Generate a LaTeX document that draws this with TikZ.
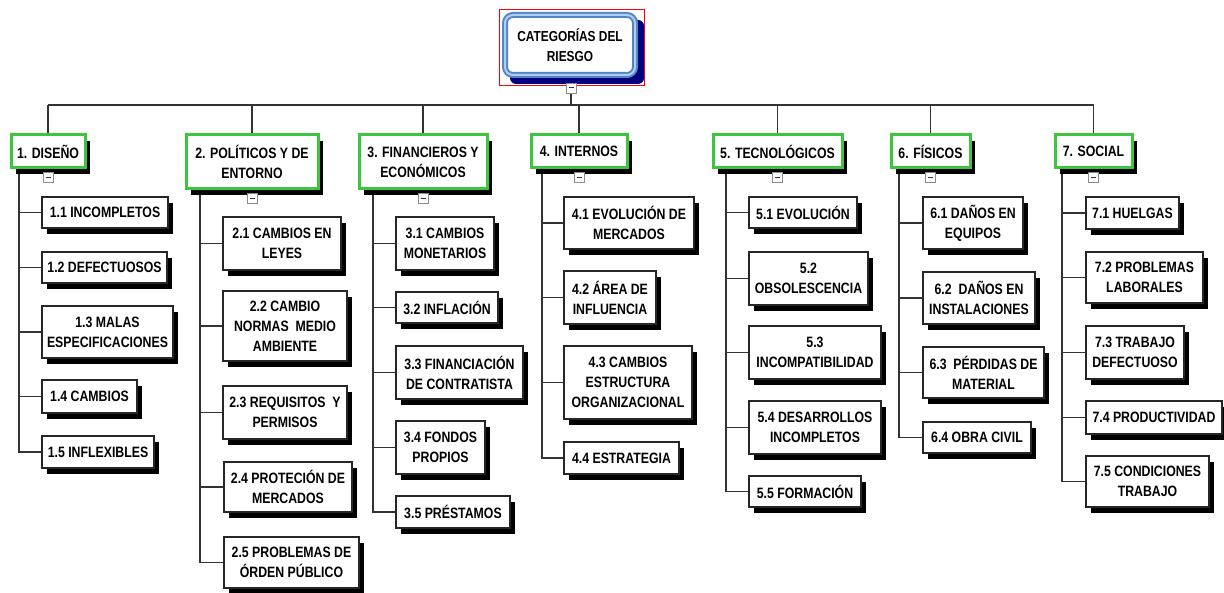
\documentclass[tikz,border=0pt]{standalone}
\usepackage{fontspec}
\newfontfamily\riskfont{Liberation Sans}[FakeStretch=0.82]
\usetikzlibrary{positioning,shadows,backgrounds}
\definecolor{catgreen}{RGB}{62,196,62}
\definecolor{rootblue}{RGB}{84,134,196}
\definecolor{rootlight}{RGB}{178,204,236}
\definecolor{rootnavy}{RGB}{0,0,128}
\tikzset{
  box font/.style={font=\riskfont\bfseries\fontsize{15}{20}\selectfont,text=black},
  cat box/.style={
    box font,draw=catgreen,line width=3pt,fill=white,align=center,inner sep=0pt,
    drop shadow={shadow xshift=5pt,shadow yshift=-6pt,fill=black,opacity=1}
  },
  leaf box/.style={
    box font,draw=black!85,line width=1.3pt,fill=white,align=center,inner sep=0pt,
    drop shadow={shadow xshift=5pt,shadow yshift=-6pt,fill=black,opacity=1}
  },
  fold box/.style={
    draw=black!45,fill=white,line width=0.8pt,minimum size=10pt,inner sep=0pt,
    path picture={\draw[black!80,line width=1pt]
      ([xshift=-2.5pt]path picture bounding box.center)--
      ([xshift=2.5pt]path picture bounding box.center);}
  },
  tree line/.style={black!80,line width=1.2pt}
}
% box from its corners (x1,y1) to (x2,y2)
\newcommand{\riskbox}[7][leaf box]{%
  \pgfmathsetmacro{\rkx}{(#3+#5)/2}\pgfmathsetmacro{\rky}{(#4+#6)/2}%
  \pgfmathsetmacro{\rkw}{#5-#3-2}\pgfmathsetmacro{\rkh}{#6-#4-2}%
  \node[#1,minimum width=\rkw pt,minimum height=\rkh pt] (#2) at (\rkx,\rky) {#7};%
}

\begin{document}
\begin{tikzpicture}[x=1pt,y=-1pt]
  \useasboundingbox (0,0) rectangle (1224,593);

  % top of the tree
  \fill[rootnavy,rounded corners=6pt] (510,20) rectangle (644,84);
  \node[box font,draw=rootblue,double=rootlight,double distance=2pt,line width=2pt,
    fill=white,rounded corners=8pt,align=center,inner sep=0pt,
    minimum width=130pt,minimum height=60pt,font=\riskfont\bfseries\fontsize{14.5}{20}\selectfont]
    (root) at (570,45) {CATEGORÍAS DEL\\RIESGO};
  \draw[red,line width=0.8pt] (499,9) rectangle (644,85);
  \node[fold box] (rootfold) at (571,88) {};
  \coordinate (bus) at (0,105);

  % categories
  \riskbox[cat box]{cat1}{10}{134}{86}{169}{1. DISEÑO}
  \riskbox[cat box]{cat2}{185}{134}{319}{190}{2. POLÍTICOS Y DE\\ENTORNO}
  \riskbox[cat box]{cat3}{358}{134}{488}{190}{3. FINANCIEROS Y\\ECONÓMICOS}
  \riskbox[cat box]{cat4}{530}{134}{628}{169}{4. INTERNOS}
  \riskbox[cat box]{cat5}{712}{134}{843}{169}{5. TECNOLÓGICOS}
  \riskbox[cat box]{cat6}{890}{134}{971}{169}{6. FÍSICOS}
  \riskbox[cat box]{cat7}{1054}{134}{1133}{169}{7. SOCIAL}
  \foreach \i in {1,...,7}
    \node[fold box,below=3pt of cat\i] (fold\i) {};

  % 1. diseno
  \riskbox{c11}{41}{196}{169}{229}{1.1 INCOMPLETOS}
  \riskbox{c12}{41}{251}{168}{284}{1.2 DEFECTUOSOS}
  \riskbox{c13}{41}{305}{174}{359}{1.3 MALAS\\ESPECIFICACIONES}
  \riskbox{c14}{41}{379}{138}{414}{1.4 CAMBIOS}
  \riskbox{c15}{41}{435}{155}{469}{1.5 INFLEXIBLES}

  % 2. politicos
  \riskbox{c21}{222}{216}{342}{271}{2.1 CAMBIOS EN\\LEYES}
  \riskbox{c22}{222}{290}{348}{362}{2.2 CAMBIO\\NORMAS\ \ MEDIO\\AMBIENTE}
  \riskbox{c23}{222}{385}{348}{440}{2.3 REQUISITOS\ \ Y\\PERMISOS}
  \riskbox{c24}{223}{461}{353}{513}{2.4 PROTECIÓN DE\\MERCADOS}
  \riskbox{c25}{223}{536}{360}{589}{2.5 PROBLEMAS DE\\ÓRDEN PÚBLICO}

  % 3. financieros
  \riskbox{c31}{395}{216}{495}{271}{3.1 CAMBIOS\\MONETARIOS}
  \riskbox{c32}{395}{291}{499}{324}{3.2 INFLACIÓN}
  \riskbox{c33}{395}{345}{524}{400}{3.3 FINANCIACIÓN\\DE CONTRATISTA}
  \riskbox{c34}{395}{420}{486}{475}{3.4 FONDOS\\PROPIOS}
  \riskbox{c35}{395}{495}{511}{529}{3.5 PRÉSTAMOS}

  % 4. internos
  \riskbox{c41}{563}{196}{695}{250}{4.1 EVOLUCIÓN DE\\MERCADOS}
  \riskbox{c42}{563}{270}{657}{325}{4.2 ÁREA DE\\INFLUENCIA}
  \riskbox{c43}{563}{345}{693}{420}{4.3 CAMBIOS\\ESTRUCTURA\\ORGANIZACIONAL}
  \riskbox{c44}{563}{441}{680}{475}{4.4 ESTRATEGIA}

  % 5. tecnologicos
  \riskbox{c51}{748}{196}{858}{229}{5.1 EVOLUCIÓN}
  \riskbox{c52}{748}{251}{869}{306}{5.2\\OBSOLESCENCIA}
  \riskbox{c53}{748}{325}{882}{380}{5.3\\INCOMPATIBILIDAD}
  \riskbox{c54}{748}{400}{882}{455}{5.4 DESARROLLOS\\INCOMPLETOS}
  \riskbox{c55}{748}{475}{862}{508}{5.5 FORMACIÓN}

  % 6. fisicos
  \riskbox{c61}{922}{196}{1024}{250}{6.1 DAÑOS EN\\EQUIPOS}
  \riskbox{c62}{922}{271}{1036}{325}{6.2\ \ DAÑOS EN\\INSTALACIONES}
  \riskbox{c63}{922}{346}{1045}{399}{6.3\ \ PÉRDIDAS DE\\MATERIAL}
  \riskbox{c64}{922}{421}{1032}{454}{6.4 OBRA CIVIL}

  % 7. social
  \riskbox{c71}{1085}{196}{1180}{230}{7.1 HUELGAS}
  \riskbox{c72}{1085}{251}{1204}{304}{7.2 PROBLEMAS\\LABORALES}
  \riskbox{c73}{1085}{325}{1185}{380}{7.3 TRABAJO\\DEFECTUOSO}
  \riskbox{c74}{1085}{400}{1223}{435}{7.4 PRODUCTIVIDAD}
  \riskbox{c75}{1085}{455}{1210}{508}{7.5 CONDICIONES\\TRABAJO}

  % trunks under each category
  \coordinate (t1) at (19,0);
  \coordinate (t2) at (200,0);
  \coordinate (t3) at (373,0);
  \coordinate (t4) at (542,0);
  \coordinate (t5) at (726,0);
  \coordinate (t6) at (899,0);
  \coordinate (t7) at (1062,0);

  \begin{scope}[on background layer]
    \draw[tree line] (rootfold.south)--(rootfold |- bus);
    \draw[tree line] (cat1.north |- bus)--(cat7.north |- bus);
    \foreach \i in {1,...,7}
      \draw[tree line] (cat\i.north |- bus)--(cat\i.north);
    \foreach \k in {1,...,5} \draw[tree line] (t1 |- cat1.south) |- (c1\k.west);
    \foreach \k in {1,...,5} \draw[tree line] (t2 |- cat2.south) |- (c2\k.west);
    \foreach \k in {1,...,5} \draw[tree line] (t3 |- cat3.south) |- (c3\k.west);
    \foreach \k in {1,...,4} \draw[tree line] (t4 |- cat4.south) |- (c4\k.west);
    \foreach \k in {1,...,5} \draw[tree line] (t5 |- cat5.south) |- (c5\k.west);
    \foreach \k in {1,...,4} \draw[tree line] (t6 |- cat6.south) |- (c6\k.west);
    \foreach \k in {1,...,5} \draw[tree line] (t7 |- cat7.south) |- (c7\k.west);
  \end{scope}
\end{tikzpicture}
\end{document}
